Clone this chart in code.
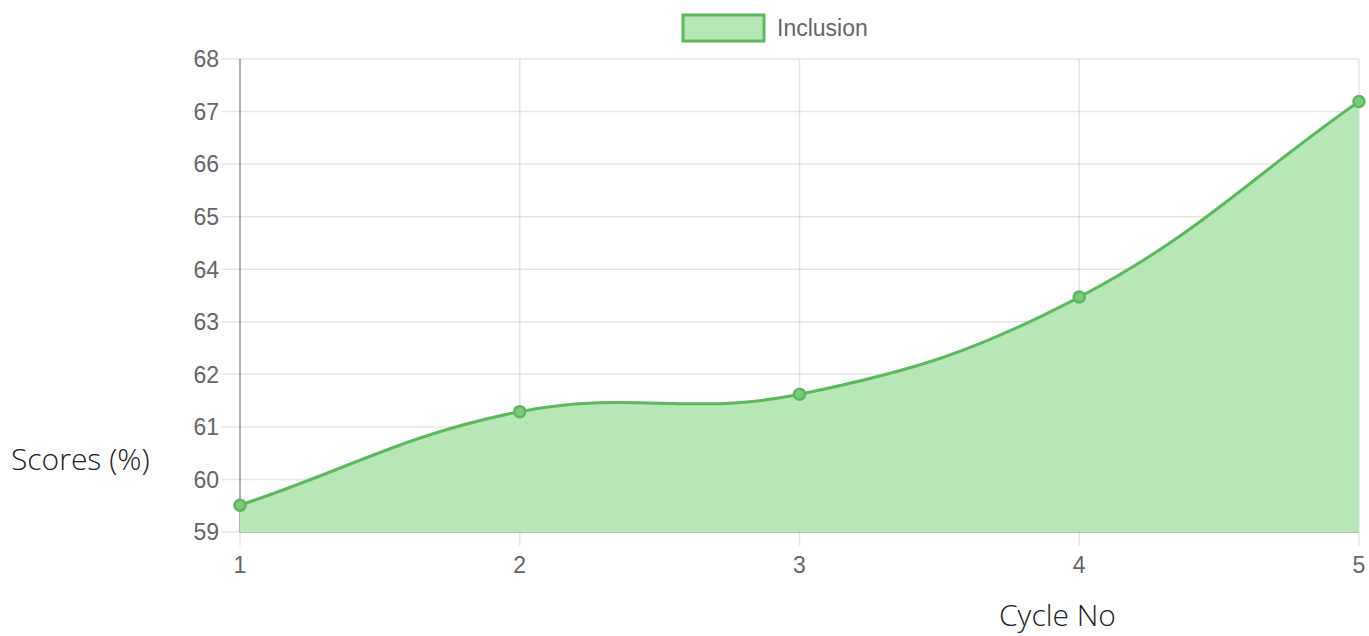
<!DOCTYPE html>
<html>
<head>
<meta charset="utf-8">
<script src="https://cdn.jsdelivr.net/npm/d3@7"></script>
<style>
  html, body { margin: 0; padding: 0; background: #fff; }
  #chart { width: 1369px; height: 636px; }
  .tick-label { font-family: "Liberation Sans", Arial, sans-serif; font-size: 23px; fill: #666; }
  .axis-title { font-family: "Open Sans", "Noto Sans", sans-serif; font-weight: 300; font-size: 30px; fill: #222; }
</style>
</head>
<body>
<div id="chart"></div>
<script>
////////////////////////////  Data  ////////////////////////////
const cycles = [1, 2, 3, 4, 5];
const inclusionScores = [59.51, 61.29, 61.62, 63.47, 67.19];
const yTicks = [59, 60, 61, 62, 63, 64, 65, 66, 67, 68];
const seriesName = "Inclusion";

////////////////////////////  Init  ////////////////////////////
const width = 1369;
const height = 636;
const margin = { top: 59, right: 10, bottom: 104, left: 240 };

const lineColor = "#5cb85c";
const fillColor = "#b7e7b7";

const svg = d3
  .select("#chart")
  .append("svg")
  .attr("width", width)
  .attr("height", height);

// scales
const x = d3
  .scalePoint()
  .domain(cycles)
  .range([margin.left, width - margin.right]);

const y = d3
  .scaleLinear()
  .domain([59, 68])
  .range([height - margin.bottom, margin.top]);

const x0 = x.range()[0], x1 = x.range()[1];
const y0 = y.range()[0], y1 = y.range()[1];

// grid - horizontal
svg
  .append("g")
  .selectAll("line")
  .data(yTicks)
  .join("line")
  .attr("x1", x0 - 18)
  .attr("x2", x1)
  .attr("y1", (d) => y(d))
  .attr("y2", (d) => y(d))
  .attr("stroke", "rgba(0,0,0,0.1)")
  .attr("stroke-width", 1.5);

// grid - vertical
svg
  .append("g")
  .selectAll("line")
  .data(cycles)
  .join("line")
  .attr("x1", (d) => x(d))
  .attr("x2", (d) => x(d))
  .attr("y1", y1)
  .attr("y2", y0 + 14)
  .attr("stroke", "rgba(0,0,0,0.1)")
  .attr("stroke-width", 1.5);

// axis lines
svg
  .append("line")
  .attr("x1", x0).attr("x2", x0)
  .attr("y1", y1).attr("y2", y0)
  .attr("stroke", "rgba(0,0,0,0.25)")
  .attr("stroke-width", 2);
svg
  .append("line")
  .attr("x1", x0).attr("x2", x1)
  .attr("y1", y0).attr("y2", y0)
  .attr("stroke", "rgba(0,0,0,0.2)")
  .attr("stroke-width", 2);

// tick labels
svg
  .append("g")
  .selectAll("text")
  .data(yTicks)
  .join("text")
  .attr("class", "tick-label")
  .attr("x", x0 - 21)
  .attr("y", (d) => y(d))
  .attr("dy", "0.36em")
  .attr("text-anchor", "end")
  .text((d) => d);

svg
  .append("g")
  .selectAll("text")
  .data(cycles)
  .join("text")
  .attr("class", "tick-label")
  .attr("x", (d) => x(d))
  .attr("y", y0 + 41)
  .attr("text-anchor", "middle")
  .text((d) => d);

////////////////////////////  Spline (tension 0.4)  ////////////////////////////
const pts = cycles.map((c, i) => ({ x: x(c), y: y(inclusionScores[i]) }));
const tension = 0.4;
pts.forEach((p, i) => {
  const prev = pts[i - 1] || p;
  const next = pts[i + 1] || p;
  const d01 = Math.hypot(p.x - prev.x, p.y - prev.y);
  const d12 = Math.hypot(next.x - p.x, next.y - p.y);
  let s01 = d01 / (d01 + d12);
  let s12 = d12 / (d01 + d12);
  s01 = isNaN(s01) ? 0 : s01;
  s12 = isNaN(s12) ? 0 : s12;
  const fa = tension * s01;
  const fb = tension * s12;
  const clampX = (v) => Math.max(x0, Math.min(x1, v));
  const clampY = (v) => Math.max(y1, Math.min(y0, v));
  p.cpPrev = { x: clampX(p.x - fa * (next.x - prev.x)), y: clampY(p.y - fa * (next.y - prev.y)) };
  p.cpNext = { x: clampX(p.x + fb * (next.x - prev.x)), y: clampY(p.y + fb * (next.y - prev.y)) };
});

function splinePath(path) {
  path.moveTo(pts[0].x, pts[0].y);
  for (let i = 1; i < pts.length; i++) {
    const a = pts[i - 1], b = pts[i];
    path.bezierCurveTo(a.cpNext.x, a.cpNext.y, b.cpPrev.x, b.cpPrev.y, b.x, b.y);
  }
  return path;
}

// area
const areaPath = splinePath(d3.path());
areaPath.lineTo(pts[pts.length - 1].x, y0);
areaPath.lineTo(pts[0].x, y0);
areaPath.closePath();
svg
  .append("path")
  .attr("d", areaPath.toString())
  .attr("fill", fillColor);

// line
svg
  .append("path")
  .attr("d", splinePath(d3.path()).toString())
  .attr("fill", "none")
  .attr("stroke", lineColor)
  .attr("stroke-width", 3);

// points
svg
  .append("g")
  .selectAll("circle")
  .data(pts)
  .join("circle")
  .attr("cx", (d) => d.x)
  .attr("cy", (d) => d.y)
  .attr("r", 5.5)
  .attr("fill", "#7cc87c")
  .attr("stroke", lineColor)
  .attr("stroke-width", 2.5);

////////////////////////////  Legend  ////////////////////////////
const legend = svg.append("g").attr("transform", "translate(683,15)");
legend
  .append("rect")
  .attr("width", 81)
  .attr("height", 26)
  .attr("fill", fillColor)
  .attr("stroke", lineColor)
  .attr("stroke-width", 3);
legend
  .append("text")
  .attr("class", "tick-label")
  .attr("x", 94)
  .attr("y", 13)
  .attr("dy", "0.36em")
  .text(seriesName);

////////////////////////////  Axis titles  ////////////////////////////
svg
  .append("text")
  .attr("class", "axis-title")
  .attr("x", 11)
  .attr("y", 470)
  .text("Scores (%)");

svg
  .append("text")
  .attr("class", "axis-title")
  .attr("x", 999)
  .attr("y", 626)
  .text("Cycle No");
</script>
</body>
</html>
